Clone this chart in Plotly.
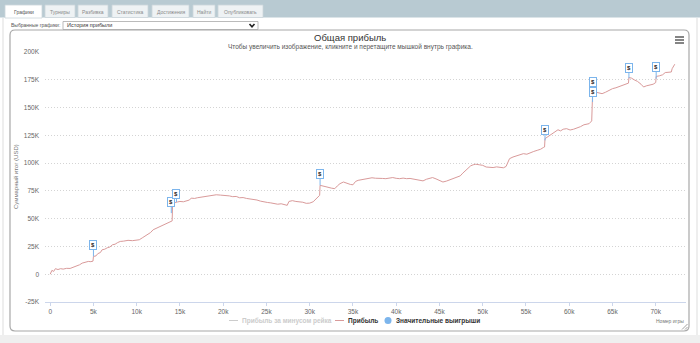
import plotly.graph_objects as go

# ---------------- data ----------------
games = [0, 200, 400, 600, 900, 1200, 1500, 1900, 2300, 2700,
         3100, 3400, 3700, 4000, 4400, 4700, 4950, 5000, 5300, 5500,
         5800, 6000, 6300, 6600, 6900, 7200, 7500, 7800, 8100, 8500,
         9000, 9500, 10000, 10300, 10700, 11000, 11300, 11600, 11900, 12200,
         12500, 12800, 13100, 13400, 13700, 14000, 14100, 14150, 14400, 14700,
         15000, 15400, 15800, 16100, 16300, 16700, 17000, 17400, 17800, 18200,
         18700, 19200, 19700, 20200, 20700, 21100, 21500, 21900, 22300, 22700,
         23100, 23500, 23900, 24300, 24700, 25100, 25500, 25900, 26300, 26700,
         27100, 27400, 27600, 28000, 28400, 28800, 29200, 29600, 30000, 30400,
         30700, 31000, 31150, 31200, 31600, 32000, 32500, 32900, 33200, 33500,
         33900, 34300, 34700, 35000, 35300, 35600, 36000, 36400, 36800, 37200,
         37600, 38000, 38400, 38800, 39200, 39600, 40000, 40400, 40800, 41200,
         41600, 42000, 42400, 42800, 43100, 43500, 43900, 44200, 44600, 45000,
         45400, 45800, 46200, 46600, 47000, 47400, 47700, 48000, 48300, 48600,
         48900, 49200, 49600, 50000, 50400, 50800, 51200, 51600, 52000, 52400,
         52700, 52900, 53100, 53500, 53900, 54300, 54700, 55100, 55500, 55900,
         56300, 56700, 57000, 57150, 57200, 57500, 57800, 58100, 58400, 58700,
         59000, 59300, 59700, 60100, 60500, 60900, 61300, 61700, 62000, 62300,
         62600, 62700, 63000, 63400, 63800, 64200, 64600, 65000, 65400, 65800,
         66200, 66500, 66850, 66900, 67200, 67500, 67900, 68300, 68600, 68900,
         69300, 69700, 70000, 70050, 70400, 70800, 71100, 71500, 71800, 71900,
         72100, 72200]
profit = [0, 3500, 2500, 5000, 4200, 5000, 4600, 5300, 5200, 6200,
          7500, 8500, 10000, 10800, 11500, 11300, 11800, 16000, 16500, 18500,
          19500, 22000, 22500, 23800, 24500, 26500, 27000, 28500, 29500, 29800,
          30500, 30200, 30600, 31000, 33000, 34500, 36500, 37500, 40000, 41000,
          42500, 43500, 44500, 45000, 46500, 47500, 48000, 63000, 64500, 65000,
          65500, 65200, 66500, 66800, 68500, 68200, 68800, 69200, 70000, 70300,
          70800, 71500, 71200, 71000, 70500, 69800, 70000, 68800, 69000, 68200,
          67800, 67000, 66800, 65800, 65000, 64600, 64200, 63600, 63000, 63400,
          62200, 62000, 65500, 66200, 65500, 65200, 64800, 63800, 64000, 65200,
          67500, 70000, 71000, 80000, 79000, 78500, 77500, 77000, 79500, 81500,
          83000, 81800, 80800, 80500, 83500, 84500, 85000, 85600, 86000, 86800,
          86400, 86600, 86200, 86000, 86700, 87000, 86300, 86000, 86500, 86000,
          86200, 85500, 85000, 84500, 84000, 85500, 86500, 87000, 85800, 84500,
          83000, 83800, 84800, 86500, 87200, 88500, 91000, 93000, 95000, 97500,
          98500, 99000, 98500, 98000, 96500, 96200, 96000, 96600, 96000, 95800,
          97000, 101000, 104000, 105500, 106500, 107200, 108500, 108000, 109500, 110500,
          111500, 112500, 114000, 114500, 122000, 123500, 125000, 127000, 128500, 130000,
          129000, 130500, 131000, 129800, 130500, 131500, 132800, 134500, 135000, 135500,
          138000, 162000, 164000, 163000, 162500, 163800, 165500, 167000, 167800, 169000,
          170500, 171000, 172000, 177000, 176500, 175000, 173500, 171000, 168500, 169500,
          170200, 171000, 172500, 178000, 178500, 179500, 181500, 181800, 182000, 185000,
          188000, 189000]

flag_games = [5000, 14000, 14600, 31200, 57200, 62700, 62700, 66900, 70050]
flag_values = [16000, 55000, 65000, 80000, 120500, 160000, 155000, 176500, 176000]
flag_texts = ["$", "$", "$", "$", "$", "$", "$", "$", "$"]

x_ticks = [0, 5000, 10000, 15000, 20000, 25000, 30000, 35000, 40000, 45000, 50000, 55000, 60000, 65000, 70000]
x_tick_labels = ["0", "5k", "10k", "15k", "20k", "25k", "30k", "35k", "40k", "45k", "50k", "55k", "60k", "65k", "70k"]
y_ticks = [-25000, 0, 25000, 50000, 75000, 100000, 125000, 150000, 175000, 200000]
y_tick_labels = ["-25K", "0", "25K", "50K", "75K", "100K", "125K", "150K", "175K", "200K"]

series_names = ["Прибыль за минусом рейка", "Прибыль", "Значительные выигрыши"]
tabs = ["Графики", "Турниры", "Разбивка", "Статистика", "Достижения", "Найти", "Опубликовать"]

assert len(games) == len(profit)

# ---------------- layout helpers ----------------
L, R, T, B = 45, 686, 52, 302
PW, PH = R - L, B - T
def px(x):
    return (x - L) / PW
def py(y):
    return (B - y) / PH

FONT = "Liberation Sans, Arial, sans-serif"
flag_offsets = [-11, -11, -8, -11, -10, -14, -10, -10, -12]
tab_spans = [(5, 42), (45, 75), (78, 108), (112, 148), (152, 189), (193, 215), (218, 263)]
LINE_COLOR = "#d99a9a"
FLAG_COLOR = "#7cb5ec"

fig = go.Figure()
fig.add_trace(go.Scatter(x=[None], y=[None], mode="lines", name=series_names[0],
                         line=dict(color="#c8c8c8", width=1), visible="legendonly", showlegend=False))
fig.add_trace(go.Scatter(x=games, y=profit, mode="lines", name=series_names[1],
                         line=dict(color=LINE_COLOR, width=1), hoverinfo="skip", showlegend=False))

shapes = []
annotations = []

# top bar
shapes.append(dict(type="rect", xref="paper", yref="paper", x0=px(0), x1=px(700), y0=py(0), y1=py(17.5),
                   fillcolor="#b8cad2", line=dict(width=0), layer="below"))
for i, (name, (a, b)) in enumerate(zip(tabs, tab_spans)):
    active = i == 0
    shapes.append(dict(type="rect", xref="paper", yref="paper", x0=px(a), x1=px(b),
                       y0=py(5), y1=py(18 if active else 17.5),
                       fillcolor="#ffffff" if active else "#eef2f4",
                       line=dict(width=0.8, color="#cbd6db"), layer="below"))
    annotations.append(dict(x=px((a + b) / 2), y=py(11.5), xref="paper", yref="paper", text=name,
                            showarrow=False, xanchor="center", yanchor="middle",
                            font=dict(size=5, color="#555" if active else "#8a8a8a", family=FONT)))

# outer container edges
shapes.append(dict(type="line", xref="paper", yref="paper", x0=px(3), x1=px(3), y0=py(18), y1=py(335),
                   line=dict(color="#dddddd", width=1), layer="below"))
shapes.append(dict(type="line", xref="paper", yref="paper", x0=px(697), x1=px(697), y0=py(18), y1=py(335),
                   line=dict(color="#dddddd", width=1), layer="below"))
shapes.append(dict(type="rect", xref="paper", yref="paper", x0=px(0), x1=px(700), y0=py(335), y1=py(343),
                   fillcolor="#efefef", line=dict(width=0), layer="below"))

# dropdown
annotations.append(dict(x=px(9), y=py(25.5), xref="paper", yref="paper", text="Выбранные графики:",
                        showarrow=False, xanchor="left", yanchor="middle",
                        font=dict(size=5, color="#555", family=FONT)))
shapes.append(dict(type="rect", xref="paper", yref="paper", x0=px(63), x1=px(258), y0=py(21.5), y1=py(29.5),
                   fillcolor="#ffffff", line=dict(width=0.8, color="#a9a9a9"), layer="below"))
annotations.append(dict(x=px(65), y=py(25.5), xref="paper", yref="paper", text="История прибыли",
                        showarrow=False, xanchor="left", yanchor="middle",
                        font=dict(size=5.5, color="#333", family=FONT)))
shapes.append(dict(type="path", xref="paper", yref="paper",
                   path=f"M{px(249.5)},{py(24)} L{px(252)},{py(26.8)} L{px(254.5)},{py(24)}",
                   line=dict(color="#222", width=1.6)))

# panel rounded border
x0, y0, x1, y1, r = 10, 30, 689, 331, 5
pts = (f"M{px(x0 + r)},{py(y0)} L{px(x1 - r)},{py(y0)} Q{px(x1)},{py(y0)} {px(x1)},{py(y0 + r)} "
       f"L{px(x1)},{py(y1 - r)} Q{px(x1)},{py(y1)} {px(x1 - r)},{py(y1)} "
       f"L{px(x0 + r)},{py(y1)} Q{px(x0)},{py(y1)} {px(x0)},{py(y1 - r)} "
       f"L{px(x0)},{py(y0 + r)} Q{px(x0)},{py(y0)} {px(x0 + r)},{py(y0)} Z")
shapes.append(dict(type="path", xref="paper", yref="paper", path=pts,
                   line=dict(color="#a8a8a8", width=1.2), fillcolor="rgba(0,0,0,0)", layer="below"))
# resize grip
for (ax0, ay0, ax1, ay1) in [(682, 329.5, 687.5, 324), (685, 329.5, 687.5, 327)]:
    shapes.append(dict(type="line", xref="paper", yref="paper", x0=px(ax0), y0=py(ay0), x1=px(ax1), y1=py(ay1),
                       line=dict(color="#888", width=0.8)))

# hamburger
for yy in (37, 40, 43):
    shapes.append(dict(type="line", xref="paper", yref="paper", x0=px(675), x1=px(684), y0=py(yy), y1=py(yy),
                       line=dict(color="#666", width=1.6)))

# title & subtitle
annotations.append(dict(x=px(350), y=py(38), xref="paper", yref="paper", text="Общая прибыль",
                        showarrow=False, xanchor="center", yanchor="middle",
                        font=dict(size=9.5, color="#333", family=FONT)))
annotations.append(dict(x=px(350), y=py(47), xref="paper", yref="paper",
                        text="Чтобы увеличить изображение, кликните и перетащите мышкой внутрь графика.",
                        showarrow=False, xanchor="center", yanchor="middle",
                        font=dict(size=6.5, color="#555", family=FONT)))
# axis titles
annotations.append(dict(x=px(16), y=py(177), xref="paper", yref="paper", text="Суммарный итог (USD)",
                        showarrow=False, textangle=-90, xanchor="center", yanchor="middle",
                        font=dict(size=6, color="#777", family=FONT)))
annotations.append(dict(x=px(686), y=py(321), xref="paper", yref="paper", text="Номер игры",
                        showarrow=False, xanchor="right", yanchor="middle",
                        font=dict(size=5, color="#777", family=FONT)))

# custom legend (compact, Highcharts-like)
LEG_Y = 320.5
shapes.append(dict(type="line", xref="paper", yref="paper", x0=px(229), x1=px(238), y0=py(LEG_Y), y1=py(LEG_Y),
                   line=dict(color="#cccccc", width=1)))
annotations.append(dict(x=px(240), y=py(LEG_Y), xref="paper", yref="paper", text=f"<b>{series_names[0]}</b>",
                        showarrow=False, xanchor="left", yanchor="middle",
                        font=dict(size=6.5, color="#cccccc", family=FONT)))
shapes.append(dict(type="line", xref="paper", yref="paper", x0=px(335), x1=px(344), y0=py(LEG_Y), y1=py(LEG_Y),
                   line=dict(color=LINE_COLOR, width=1)))
annotations.append(dict(x=px(346), y=py(LEG_Y), xref="paper", yref="paper", text=f"<b>{series_names[1]}</b>",
                        showarrow=False, xanchor="left", yanchor="middle",
                        font=dict(size=6.5, color="#333", family=FONT)))
shapes.append(dict(type="circle", xref="paper", yref="paper", x0=px(384.5), x1=px(391.5),
                   y0=py(LEG_Y - 3.5), y1=py(LEG_Y + 3.5), fillcolor=FLAG_COLOR, line=dict(width=0)))
annotations.append(dict(x=px(394), y=py(LEG_Y), xref="paper", yref="paper", text=f"<b>{series_names[2]}</b>",
                        showarrow=False, xanchor="left", yanchor="middle",
                        font=dict(size=6.5, color="#333", family=FONT)))

# flags
for gx, gv, t, off in zip(flag_games, flag_values, flag_texts, flag_offsets):
    annotations.append(dict(x=gx, y=gv, xref="x", yref="y", text=f"<b>{t}</b>", showarrow=True,
                            arrowhead=0, arrowwidth=1, arrowcolor=FLAG_COLOR, ax=0, ay=off,
                            bordercolor=FLAG_COLOR, borderwidth=1, borderpad=1, bgcolor="#ffffff",
                            font=dict(size=6, color="#222", family=FONT)))

fig.update_layout(
    width=700, height=343,
    margin=dict(l=L, r=700 - R, t=T, b=343 - B, autoexpand=False),
    paper_bgcolor="#ffffff", plot_bgcolor="rgba(0,0,0,0)",
    font=dict(family=FONT, size=7, color="#666"),
    showlegend=False,
    xaxis=dict(range=[-600, 73500], tickvals=x_ticks, ticktext=x_tick_labels, showgrid=False,
               zeroline=False, showline=True, linecolor="#ccd6eb", linewidth=1,
               ticks="outside", ticklen=3, tickcolor="#ccd6eb", tickfont=dict(size=6.5, color="#666")),
    yaxis=dict(range=[-25000, 200000], tickvals=y_ticks, ticktext=y_tick_labels, showgrid=True,
               gridcolor="#d4d4d4", griddash="1px,2px", gridwidth=1, zeroline=False,
               tickfont=dict(size=6.5, color="#666"), ticklabelstandoff=5),
    shapes=shapes, annotations=annotations,
    hovermode=False,
)

fig.write_html("out.html", config={"displayModeBar": False})
